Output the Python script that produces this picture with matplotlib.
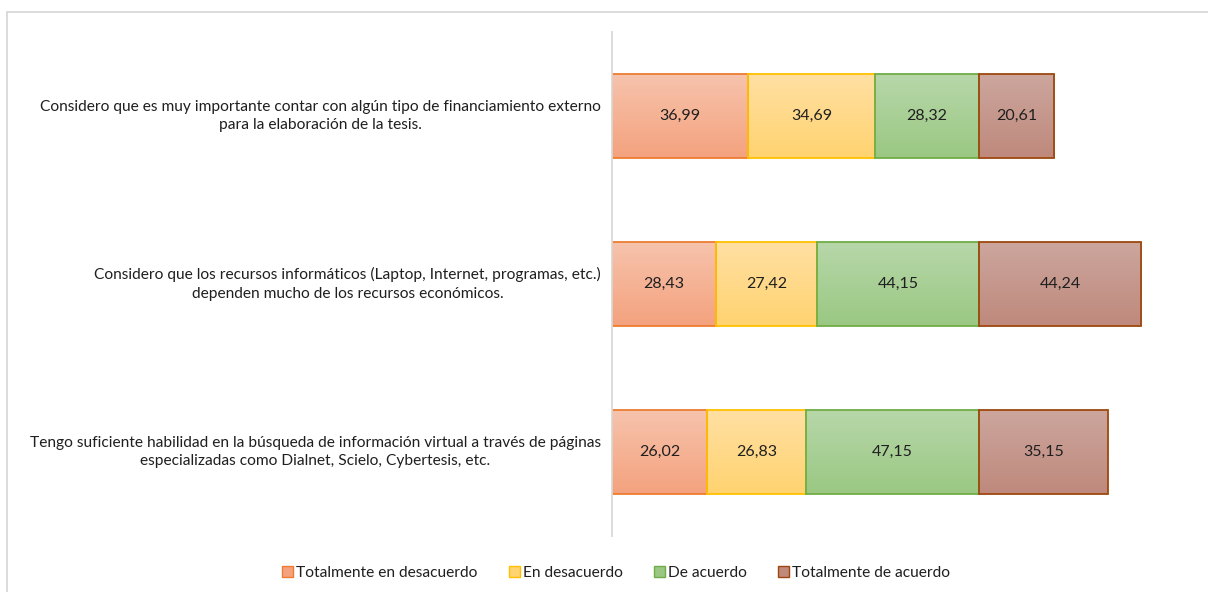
import numpy as np
import matplotlib.pyplot as plt
import matplotlib.colors as mcolors
import matplotlib.transforms as mtransforms
from matplotlib.lines import Line2D
from matplotlib.patches import Patch

plt.rcParams['font.family'] = ['Lato', 'DejaVu Sans']

preguntas = [
    "Considero que es muy importante contar con algún tipo de financiamiento externo\npara la elaboración de la tesis.",
    "Considero que los recursos informáticos (Laptop, Internet, programas, etc.)\ndependen mucho de los recursos económicos.",
    "Tengo suficiente habilidad en la búsqueda de información virtual a través de páginas\nespecializadas como Dialnet, Scielo, Cybertesis, etc.",
]
categorias = ["Totalmente en desacuerdo", "En desacuerdo", "De acuerdo", "Totalmente de acuerdo"]
tot_desacuerdo = [36.99, 28.43, 26.02]
en_desacuerdo = [34.69, 27.42, 26.83]
de_acuerdo = [28.32, 44.15, 47.15]
tot_acuerdo = [20.61, 44.24, 35.15]
series = [tot_desacuerdo, en_desacuerdo, de_acuerdo, tot_acuerdo]

# (top colour, bottom colour, edge)
estilos = [
    ("#F7C3AC", "#F4A27E", "#ED7D31"),
    ("#FFE0A3", "#FFD370", "#FFC000"),
    ("#B7D7A9", "#9AC883", "#70AD47"),
    ("#CCA69D", "#BF897C", "#9E480E"),
]

fig = plt.figure(figsize=(12.08, 5.92), dpi=100)
ax = fig.add_axes([612 / 1208, 56 / 592, 587 / 1208, 504 / 592])

ypos = np.arange(len(preguntas))[::-1]
alto = 0.5
left = np.zeros(len(preguntas))
grad = np.linspace(0, 1, 64)[:, None, None]
for vals, (c_top, c_bot, c_edge) in zip(series, estilos):
    top = np.array(mcolors.to_rgb(c_top))
    bot = np.array(mcolors.to_rgb(c_bot))
    img = top[None, None, :] * (1 - grad) + bot[None, None, :] * grad
    for y, l, v in zip(ypos, left, vals):
        ax.imshow(img, extent=[l, l + v, y - alto / 2, y + alto / 2],
                  aspect='auto', origin='upper', zorder=1, interpolation='bilinear')
        ax.text(l + v / 2, y, f"{v:.2f}".replace('.', ','), ha='center', va='center',
                fontsize=11.5, color='#1F1F1F', zorder=4)
    ax.barh(ypos, vals, left=left, height=alto, facecolor='none',
            edgecolor=c_edge, linewidth=1.3, zorder=3)
    left = left + np.array(vals)

ax.set_xlim(0, 160)
ax.set_ylim(-0.5, 2.5)
ax.set_xticks([])
ax.set_yticks([])

# category labels: block right-aligned next to the axis, lines centred
trans = mtransforms.blended_transform_factory(fig.transFigure, ax.transData)
for y, txt in zip(ypos, preguntas):
    ax.text(601 / 1208, y, txt, transform=trans, ha='right', va='center',
            multialignment='center', fontsize=11.2, color='#1F1F1F', linespacing=1.45)

for s in ['top', 'right', 'bottom']:
    ax.spines[s].set_visible(False)
ax.spines['left'].set_color('#D9D9D9')
ax.spines['left'].set_linewidth(1.3)
ax.spines['left'].set_zorder(5)

handles = [Patch(facecolor=c_bot, edgecolor=c_edge, linewidth=1) for (_, c_bot, c_edge) in estilos]
fig.legend(handles, categorias, loc='center', bbox_to_anchor=(616 / 1208, 1 - 573 / 592),
           ncol=4, frameon=False, fontsize=11.2, handlelength=0.7, handleheight=0.7,
           handletextpad=0.2, columnspacing=2.0, labelcolor='#1F1F1F')

fig.add_artist(Line2D([7.5 / 1208, 7.5 / 1208], [0, 1 - 11.5 / 592], transform=fig.transFigure,
                      color='#D9D9D9', linewidth=1.3))
fig.add_artist(Line2D([7 / 1208, 1], [1 - 11.5 / 592, 1 - 11.5 / 592], transform=fig.transFigure,
                      color='#D9D9D9', linewidth=1.3))

fig.savefig('out.png', dpi=100)
